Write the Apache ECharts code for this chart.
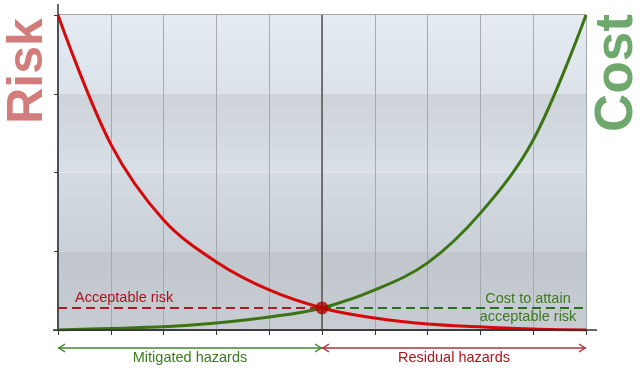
<!DOCTYPE html>
<html>
<head>
<meta charset="utf-8">
<script src="https://cdn.jsdelivr.net/npm/echarts@6/dist/echarts.min.js"></script>
<style>
html,body{margin:0;padding:0;background:#fff;}
#c{width:640px;height:368px;}
</style>
</head>
<body>
<div id="c"></div>
<script>
// ---- data ----
const xValues = [0, 1, 2, 3, 4, 5, 6, 7, 8, 9, 10];
const riskValues = [100, 59.0, 34.9, 21.6, 12.7, 7.0, 3.8, 1.9, 1.0, 0.3, 0];
const costValues = [0, 0.5, 1.0, 2.2, 4.1, 7.0, 12.7, 21.3, 37.1, 60.3, 100];
const acceptableLevel = 7.0;
const balancePoint = 5;
const yTicks = [0, 25, 50, 75, 100];
const texts = {
  risk: 'Risk', cost: 'Cost',
  acceptable: 'Acceptable risk',
  costLine1: 'Cost to attain', costLine2: 'acceptable risk',
  mitigated: 'Mitigated hazards', residual: 'Residual hazards'
};

const FONT = '"Liberation Sans", Arial, sans-serif';
const chart = echarts.init(document.getElementById('c'), null, {renderer: 'canvas'});

function grad(a, b) {
  return new echarts.graphic.LinearGradient(0, 0, 0, 1, [{offset: 0, color: a}, {offset: 1, color: b}]);
}
// bottom band first; [top colour, bottom colour]
const bandColors = [
  ['#c0c6cc', '#c7cdd3'],
  ['#d4dbe2', '#c9d0d7'],
  ['#cdd3d9', '#d8dfe6'],
  ['#e4ebf2', '#dbe2e9']
];
const bandData = [];
for (let i = 0; i < yTicks.length - 1; i++) {
  bandData.push([
    {yAxis: yTicks[i], itemStyle: {color: grad(bandColors[i][0], bandColors[i][1])}},
    {yAxis: yTicks[i + 1]}
  ]);
}

const option = {
  animation: false,
  backgroundColor: '#ffffff',
  grid: {left: 58, right: 54, top: 15, bottom: 38, show: true, borderColor: '#4a4a4a', borderWidth: 1, backgroundColor: 'transparent'},
  xAxis: {
    type: 'value', min: 0, max: 10, interval: 1, z: 2,
    axisLine: {show: true, onZero: false, lineStyle: {color: '#333', width: 1.5}},
    axisTick: {show: true, length: 5, lineStyle: {color: '#333', width: 1}},
    axisLabel: {show: false},
    splitLine: {show: true, lineStyle: {color: '#a4aab0', width: 1}}
  },
  yAxis: {
    type: 'value', min: 0, max: 100, interval: 25, z: 2,
    axisLine: {show: true, onZero: false, lineStyle: {color: '#333', width: 1.5}},
    axisTick: {show: true, length: 4, lineStyle: {color: '#333', width: 1}},
    axisLabel: {show: false},
    splitLine: {show: false}
  },
  series: [
    {
      type: 'line', name: 'bands', data: [], z: 0, silent: true,
      markArea: {silent: true, z: 0, data: bandData}
    },
    {
      type: 'line', name: 'Risk', z: 5,
      data: xValues.map((x, i) => [x, riskValues[i]]),
      smooth: 0.35, symbol: 'none',
      lineStyle: {color: '#d40a0a', width: 3},
      markLine: {
        silent: true, symbol: 'none', label: {show: false}, z: 3,
        data: [[{coord: [0, acceptableLevel]}, {coord: [balancePoint, acceptableLevel]}]],
        lineStyle: {color: '#a81e26', width: 2, type: [9, 5]}
      }
    },
    {
      type: 'line', name: 'Cost', z: 4,
      data: xValues.map((x, i) => [x, costValues[i]]),
      smooth: 0.35, symbol: 'none',
      lineStyle: {color: '#3c7414', width: 3},
      markLine: {
        silent: true, symbol: 'none', label: {show: false}, z: 3,
        data: [
          [{coord: [balancePoint, acceptableLevel]}, {coord: [10, acceptableLevel], lineStyle: {color: '#2a6e22', width: 2, type: [9, 5]}}],
          [{coord: [balancePoint, 0], lineStyle: {color: '#555', width: 1.5, type: 'solid'}}, {coord: [balancePoint, 100]}]
        ]
      }
    },
    {
      type: 'scatter', name: 'balance', z: 6,
      data: [[balancePoint, acceptableLevel]],
      symbolSize: 13, itemStyle: {color: '#b00000'}
    }
  ]
};
chart.setOption(option);

const P = (x, y) => chart.convertToPixel({gridIndex: 0}, [x, y]);
const p0 = P(0, 0), p5 = P(balancePoint, 0), p10 = P(10, 0), pTop = P(0, 100);
const yAcc = P(0, acceptableLevel)[1];
const yArrow = p0[1] + 18;

function arrow(xa, xb, y, color) {
  return [
    {type: 'line', z: 20, shape: {x1: xa, y1: y, x2: xb, y2: y}, style: {stroke: color, lineWidth: 1.5}},
    {type: 'polyline', z: 20, shape: {points: [[xa + 7, y - 4], [xa + 1, y], [xa + 7, y + 4]]}, style: {stroke: color, lineWidth: 1.5, fill: null}},
    {type: 'polyline', z: 20, shape: {points: [[xb - 7, y - 4], [xb - 1, y], [xb - 7, y + 4]]}, style: {stroke: color, lineWidth: 1.5, fill: null}}
  ];
}

const graphics = [
  {type: 'line', z: 20, shape: {x1: p0[0], y1: pTop[1] - 11, x2: p0[0], y2: pTop[1]}, style: {stroke: '#333', lineWidth: 1.5}},
  {type: 'line', z: 20, shape: {x1: p0[0] - 5, y1: p0[1], x2: p10[0] + 11, y2: p0[1]}, style: {stroke: '#333', lineWidth: 1.5}},
  {type: 'text', z: 20, x: 28, y: 71, rotation: Math.PI / 2,
   style: {text: texts.risk, font: 'bold 50px ' + FONT, fill: '#d27c7c', align: 'center', verticalAlign: 'middle'}},
  {type: 'text', z: 20, x: 617, y: 73, rotation: Math.PI / 2,
   style: {text: texts.cost, font: 'bold 53px ' + FONT, fill: '#6ea86c', align: 'center', verticalAlign: 'middle'}},
  {type: 'text', z: 20, x: p0[0] + 17, y: yAcc - 10,
   style: {text: texts.acceptable, font: '14.5px ' + FONT, fill: '#a8141e', align: 'left', verticalAlign: 'middle'}},
  {type: 'text', z: 20, x: p10[0] - 58, y: yAcc - 9,
   style: {text: texts.costLine1, font: '14.5px ' + FONT, fill: '#3c7a1c', align: 'center', verticalAlign: 'middle'}},
  {type: 'text', z: 20, x: p10[0] - 58, y: yAcc + 9,
   style: {text: texts.costLine2, font: '14.5px ' + FONT, fill: '#3c7a1c', align: 'center', verticalAlign: 'middle'}},
  ...arrow(p0[0], p5[0], yArrow, '#3f8a2c'),
  ...arrow(p5[0], p10[0], yArrow, '#b1323a'),
  {type: 'text', z: 20, x: (p0[0] + p5[0]) / 2, y: yArrow + 10,
   style: {text: texts.mitigated, font: '14.5px ' + FONT, fill: '#3c7a1c', align: 'center', verticalAlign: 'middle'}},
  {type: 'text', z: 20, x: (p5[0] + p10[0]) / 2, y: yArrow + 10,
   style: {text: texts.residual, font: '14.5px ' + FONT, fill: '#b0141e', align: 'center', verticalAlign: 'middle'}}
];
chart.setOption({graphic: graphics});
</script>
</body>
</html>
